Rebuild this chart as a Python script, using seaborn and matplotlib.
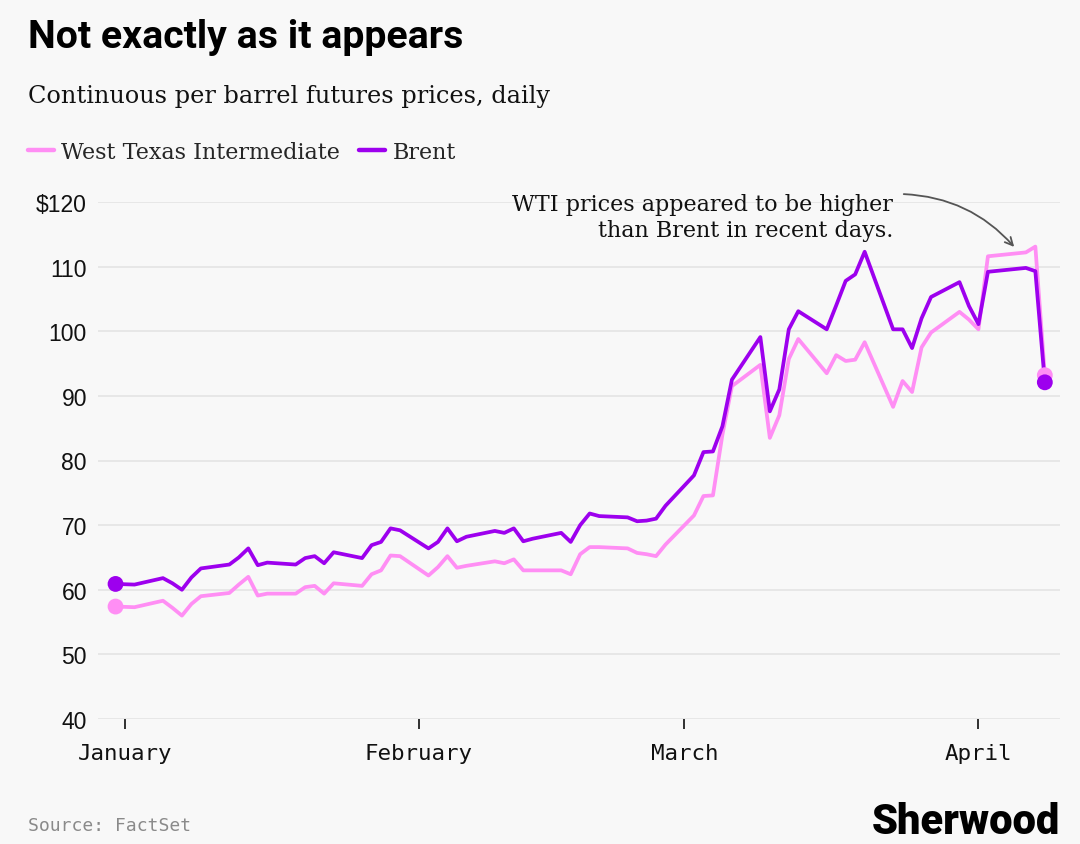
import matplotlib
matplotlib.use("Agg")
import matplotlib.pyplot as plt
import matplotlib.dates as mdates
from matplotlib.lines import Line2D
import seaborn as sns
import pandas as pd

# ---------------- data ----------------
dates = [
    "2025-12-31", "2026-01-02", "2026-01-05", "2026-01-06", "2026-01-07", "2026-01-08", "2026-01-09",
    "2026-01-12", "2026-01-13", "2026-01-14", "2026-01-15", "2026-01-16", "2026-01-19", "2026-01-20",
    "2026-01-21", "2026-01-22", "2026-01-23", "2026-01-26", "2026-01-27", "2026-01-28", "2026-01-29",
    "2026-01-30",
    "2026-02-02", "2026-02-03", "2026-02-04", "2026-02-05", "2026-02-06", "2026-02-09", "2026-02-10",
    "2026-02-11", "2026-02-12", "2026-02-13", "2026-02-16", "2026-02-17", "2026-02-18", "2026-02-19",
    "2026-02-20", "2026-02-23", "2026-02-24", "2026-02-25", "2026-02-26", "2026-02-27",
    "2026-03-02", "2026-03-03", "2026-03-04", "2026-03-05", "2026-03-06", "2026-03-09", "2026-03-10",
    "2026-03-11", "2026-03-12", "2026-03-13", "2026-03-16", "2026-03-17", "2026-03-18", "2026-03-19",
    "2026-03-20", "2026-03-23", "2026-03-24", "2026-03-25", "2026-03-26", "2026-03-27", "2026-03-30",
    "2026-03-31",
    "2026-04-01", "2026-04-02", "2026-04-06", "2026-04-07", "2026-04-08",
]

brent = [
    60.9, 60.8, 61.8, 61.0, 60.0, 61.9, 63.3, 63.9, 65.0, 66.4, 63.8, 64.2, 63.9, 64.9, 65.2, 64.1,
    65.8, 64.9, 66.9, 67.4, 69.5, 69.2,
    66.4, 67.4, 69.5, 67.5, 68.2, 69.1, 68.8, 69.5, 67.5, 67.9, 68.8, 67.4, 70.0, 71.8, 71.4, 71.2,
    70.6, 70.7, 71.0, 73.0,
    77.7, 81.3, 81.4, 85.3, 92.5, 99.1, 87.6, 91.0, 100.3, 103.1, 100.3, 104.0, 107.8, 108.8, 112.3,
    100.3, 100.3, 97.4, 102.0, 105.3, 107.6, 103.9,
    101.1, 109.2, 109.8, 109.3, 92.1,
]

wti = [
    57.4, 57.3, 58.3, 57.2, 56.0, 57.8, 59.0, 59.5, 60.8, 62.0, 59.1, 59.4, 59.4, 60.4, 60.6, 59.4,
    61.0, 60.6, 62.4, 63.0, 65.3, 65.2,
    62.2, 63.5, 65.2, 63.4, 63.7, 64.4, 64.1, 64.7, 63.0, 63.0, 63.0, 62.4, 65.5, 66.6, 66.6, 66.4,
    65.7, 65.5, 65.2, 67.0,
    71.5, 74.5, 74.6, 84.0, 91.5, 94.8, 83.5, 87.0, 95.7, 98.8, 93.5, 96.3, 95.4, 95.6, 98.3,
    88.3, 92.3, 90.6, 97.5, 99.8, 103.0, 101.8,
    100.3, 111.6, 112.2, 113.1, 93.2,
]

series_names = ["West Texas Intermediate", "Brent"]
month_ticks = ["2026-01-01", "2026-02-01", "2026-03-01", "2026-04-01"]
month_labels = ["January", "February", "March", "April"]
y_ticks = [40, 50, 60, 70, 80, 90, 100, 110, 120]
y_labels = ["40", "50", "60", "70", "80", "90", "100", "110", "$120"]

# ---------------- style ----------------
BG = "#f8f8f8"
C_WTI = "#ff8ef4"
C_BRENT = "#9d00ee"
SERIF = ["DejaVu Serif"]
MONO = ["DejaVu Sans Mono"]
SANS = ["Liberation Sans", "DejaVu Sans"]

sns.set_theme(style="white")
plt.rcParams["font.family"] = SANS

W, H = 1080, 845
fig = plt.figure(figsize=(W / 100, H / 100), dpi=100, facecolor=BG)


def fx(px):
    return px / W


def fy(py):
    return 1 - py / H


ax = fig.add_axes([fx(98), fy(720), fx(1060) - fx(98), fy(203) - fy(720)])
ax.set_facecolor(BG)

d = pd.to_datetime(dates)
df = pd.concat([
    pd.DataFrame({"date": d, "price": wti, "series": series_names[0]}),
    pd.DataFrame({"date": d, "price": brent, "series": series_names[1]}),
])
palette = {series_names[0]: C_WTI, series_names[1]: C_BRENT}

sns.lineplot(data=df, x="date", y="price", hue="series", hue_order=series_names,
             palette=palette, linewidth=2.7, legend=False, ax=ax, zorder=3)
for ln in ax.get_lines():
    ln.set_solid_joinstyle("round")
    ln.set_solid_capstyle("round")

ends = pd.concat([
    pd.DataFrame({"date": [d[0], d[-1]], "price": [wti[0], wti[-1]], "series": series_names[0]}),
    pd.DataFrame({"date": [d[0], d[-1]], "price": [brent[0], brent[-1]], "series": series_names[1]}),
])
sns.scatterplot(data=ends, x="date", y="price", hue="series", hue_order=series_names,
                palette=palette, s=130, linewidth=0, legend=False, ax=ax, zorder=4)

# axes limits
x0 = pd.Timestamp("2026-01-01")
ax.set_xlim(mdates.date2num(x0) - 2.85, mdates.date2num(x0) + 98.6)
ax.set_ylim(40, 120)

ax.set_yticks(y_ticks)
ax.set_yticklabels(y_labels, fontsize=16.5, color="#111", family=SANS)
ax.set_xticks(pd.to_datetime(month_ticks))
ax.set_xticklabels(month_labels, fontsize=16.2, color="#111", family=MONO)
ax.tick_params(axis="y", left=False, length=0, pad=8)
ax.tick_params(axis="x", bottom=True, length=7, width=1.3, color="#222", pad=10, direction="out")
ax.grid(axis="y", color="#e3e3e3", linewidth=1.1)
ax.grid(axis="x", visible=False)
for s in ax.spines.values():
    s.set_visible(False)
ax.set_xlabel("")
ax.set_ylabel("")

# ---------------- texts ----------------
fig.text(fx(28), fy(37), "Not exactly as it appears", fontsize=28.3, fontweight="bold",
         family=["Roboto", "DejaVu Sans"], color="#000", va="center", ha="left")
fig.text(fx(28), fy(97), "Continuous per barrel futures prices, daily", fontsize=17.3,
         family=SERIF, color="#111", va="center", ha="left")

handles = [Line2D([0], [0], color=C_WTI, lw=3.2), Line2D([0], [0], color=C_BRENT, lw=3.2)]
fig.legend(handles, series_names, loc="center left", bbox_to_anchor=(fx(28), fy(153)),
           ncol=2, frameon=False, handlelength=1.15, handletextpad=0.35, columnspacing=0.85,
           borderpad=0, borderaxespad=0, prop={"family": SERIF, "size": 16})

fig.text(fx(893), fy(218), "WTI prices appeared to be higher\nthan Brent in recent days.",
         fontsize=16, family=SERIF, color="#111", ha="right", va="center", linespacing=1.25,
         multialignment="right")
ax.annotate("", xy=(fx(1016), fy(250)), xycoords="figure fraction",
            xytext=(fx(901), fy(195)), textcoords="figure fraction",
            arrowprops=dict(arrowstyle="->", color="#555", lw=1.3,
                            connectionstyle="arc3,rad=-0.22", mutation_scale=14))

fig.text(fx(28), fy(826), "Source: FactSet", fontsize=13, family=MONO, color="#8a8a8a",
         va="center", ha="left")
fig.text(fx(1060), fy(823), "Sherwood", fontsize=30, fontweight="black",
         family=["Roboto", "DejaVu Sans"], color="#000", va="center", ha="right")

fig.savefig("out.png", dpi=100, facecolor=BG)
